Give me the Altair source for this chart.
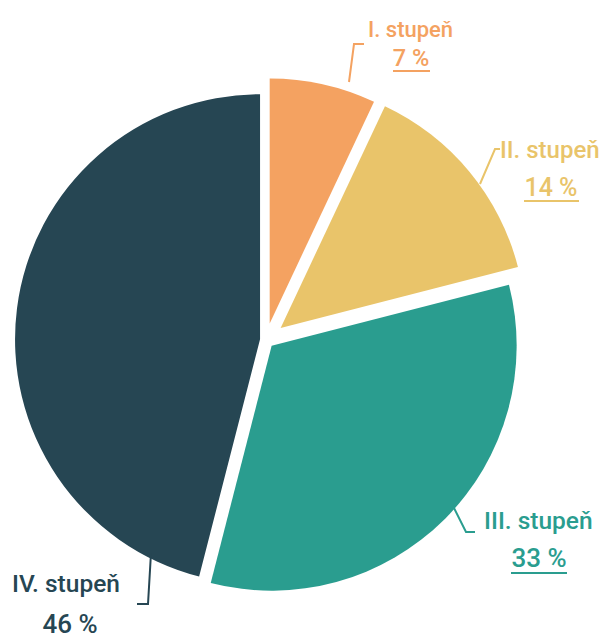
import altair as alt
import pandas as pd

# ---- data ----
labels = ["I. stupeň", "II. stupeň", "III. stupeň", "IV. stupeň"]
values = [7, 14, 33, 46]
colors = ["#F4A261", "#E9C46A", "#2A9D8F", "#264653"]

# ---- layout (page pixel coordinates, styles) ----
OFF = 8
W, H = 592, 629
CX, CY = 266 - OFF, 340 - OFF
RADIUS = 245
explode = [17, 19, 8, 6]
FONT = "Roboto, Noto Sans, sans-serif"

name_x = [368, 500, 484, 12]
name_y = [37, 158, 529, 592]
pct_x = [411, 551, 539, 70]
pct_y = [66, 196, 567, 633]
name_size = [22, 24, 24.5, 24.5]
pct_size = [23.5, 25, 26, 26]
under_x = [393, 524, 511, 42]
under_x2 = [430, 579, 567, 97]
under_y = [71, 201, 573, 642]
leader_pts = [
    [(349, 82), (354, 44), (364, 44)],
    [(480, 184), (495, 149), (500, 149)],
    [(453, 506), (466, 532), (475, 532)],
    [(151, 553), (148, 604), (137, 604)],
]

pie_df = pd.DataFrame({
    "label": labels,
    "value": values,
    "order": list(range(len(labels))),
    "explode": explode,
})

color_scale = alt.Scale(domain=labels, range=colors)

pie = (
    alt.Chart(pie_df)
    .transform_joinaggregate(total="sum(value)")
    .transform_window(cum="sum(value)", sort=[alt.SortField("order")], frame=[None, 0])
    .transform_calculate(
        t0="(datum.cum - datum.value) / datum.total * 2 * PI",
        t1="datum.cum / datum.total * 2 * PI",
    )
    .transform_calculate(mid="(datum.t0 + datum.t1) / 2")
    .transform_calculate(
        cx=f"{CX} + datum.explode * sin(datum.mid)",
        cy=f"{CY} - datum.explode * cos(datum.mid)",
    )
    .mark_arc(outerRadius=RADIUS)
    .encode(
        theta=alt.Theta("t0:Q", scale=None),
        theta2="t1:Q",
        x=alt.X("cx:Q", scale=None),
        y=alt.Y("cy:Q", scale=None),
        color=alt.Color("label:N", scale=color_scale, legend=None),
    )
)

lead_rows = []
for lab, pts in zip(labels, leader_pts):
    for i, (px, py) in enumerate(pts):
        lead_rows.append({"label": lab, "step": i, "px": px - OFF, "py": py - OFF})
lead_df = pd.DataFrame(lead_rows)

leaders = (
    alt.Chart(lead_df)
    .mark_line(strokeWidth=2, strokeJoin="miter", strokeCap="butt")
    .encode(
        x=alt.X("px:Q", scale=None),
        y=alt.Y("py:Q", scale=None),
        order="step:Q",
        detail="label:N",
        color=alt.Color("label:N", scale=color_scale, legend=None),
    )
)

txt_df = pd.DataFrame({
    "label": labels,
    "value": values,
    "nx": [v - OFF for v in name_x],
    "ny": [v - OFF for v in name_y],
    "px": [v - OFF for v in pct_x],
    "py": [v - OFF for v in pct_y],
    "nfs": name_size,
    "pfs": pct_size,
    "ux": [v - OFF for v in under_x],
    "ux2": [v - OFF for v in under_x2],
    "uy": [v - OFF for v in under_y],
})

names = (
    alt.Chart(txt_df)
    .mark_text(align="left", baseline="alphabetic", font=FONT, fontWeight=500)
    .encode(
        x=alt.X("nx:Q", scale=None),
        y=alt.Y("ny:Q", scale=None),
        text="label:N",
        size=alt.Size("nfs:Q", scale=None, legend=None),
        color=alt.Color("label:N", scale=color_scale, legend=None),
    )
)

pcts = (
    alt.Chart(txt_df)
    .transform_calculate(pct="datum.value + ' %'")
    .mark_text(align="center", baseline="alphabetic", font=FONT, fontWeight=500)
    .encode(
        x=alt.X("px:Q", scale=None),
        y=alt.Y("py:Q", scale=None),
        text="pct:N",
        size=alt.Size("pfs:Q", scale=None, legend=None),
        color=alt.Color("label:N", scale=color_scale, legend=None),
    )
)

underlines = (
    alt.Chart(txt_df)
    .mark_rule(strokeWidth=2)
    .encode(
        x=alt.X("ux:Q", scale=None),
        x2="ux2:Q",
        y=alt.Y("uy:Q", scale=None),
        color=alt.Color("label:N", scale=color_scale, legend=None),
    )
)

chart = (
    alt.layer(pie, leaders, underlines, names, pcts)
    .properties(width=W, height=H, autosize=alt.AutoSizeParams(type="none"), padding=0)
    .configure_view(stroke=None)
)

chart.save("out.html", embed_options={"renderer": "svg", "actions": False})
